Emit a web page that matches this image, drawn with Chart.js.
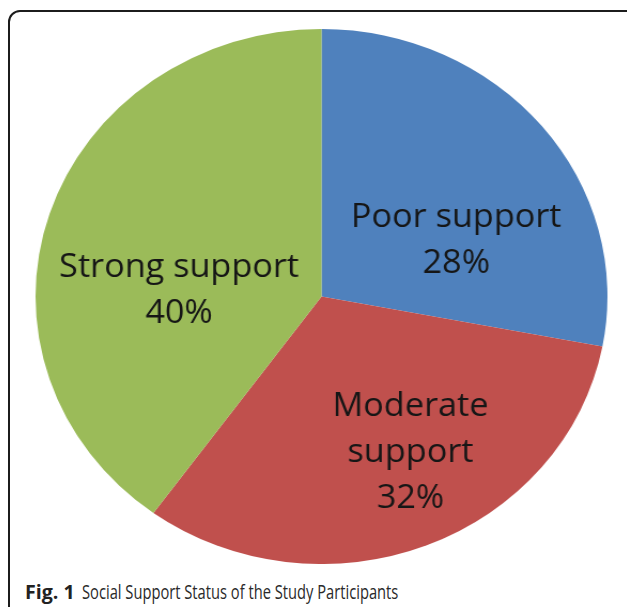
<!DOCTYPE html>
<html>
<head>
<meta charset="utf-8">
<script src="https://cdn.jsdelivr.net/npm/chart.js@4"></script>
<style>
  html, body { margin: 0; padding: 0; background: #fff; }
  body { width: 627px; height: 607px; position: relative; overflow: hidden; }
  .frame {
    position: absolute; left: 8px; top: 10px; width: 640px; height: 700px;
    border: 2px solid #1c1c1c; border-radius: 12px; box-sizing: border-box;
  }
  .pie-wrap {
    position: absolute; left: 54px; top: 29px; width: 535px; height: 535px;
    transform: scaleX(1.069); transform-origin: center;
  }
  .caption {
    position: absolute; top: 578px; white-space: nowrap;
    font-family: "Open Sans", sans-serif; font-size: 19.6px; color: #222;
  }
  .caption.fig { left: 25px; font-weight: 700; }
  .caption.text { left: 82px; color: #2a2a2a; transform: scaleX(0.75); transform-origin: left center; }
</style>
</head>
<body>
<div class="frame"></div>
<div class="pie-wrap"><canvas id="pieChart"></canvas></div>
<div class="caption fig">Fig. 1</div>
<div class="caption text">Social Support Status of the Study Participants</div>

<script>
// Social support categories and their shares (%)
const categories = ['Poor support', 'Moderate support', 'Strong support'];
const shares = [28, 32, 40];
const colors = ['#4F81BD', '#C0504D', '#9BBB59'];

// draws the category name + percent inside each slice
const sliceLabels = {
    id: 'sliceLabels',
    afterDatasetsDraw(chart, args, opts) {
        const ctx = chart.ctx;
        const meta = chart.getDatasetMeta(0);
        ctx.save();
        ctx.font = opts.font;
        ctx.fillStyle = opts.color;
        ctx.textAlign = 'center';
        ctx.textBaseline = 'middle';
        meta.data.forEach((arc, i) => {
            const pos = arc.tooltipPosition();
            const shift = opts.shift[i];
            const name = chart.data.labels[i];
            const lines = opts.wrap[i] ? name.split(' ') : [name];
            lines.push(chart.data.datasets[0].data[i] + '%');
            const cx = pos.x + shift[0];
            const cy = pos.y + shift[1];
            const top = cy - (lines.length - 1) * opts.lineHeight / 2;
            lines.forEach((txt, j) => ctx.fillText(txt, cx, top + j * opts.lineHeight));
        });
        ctx.restore();
    }
};

const ctx = document.getElementById('pieChart').getContext('2d');
new Chart(ctx, {
    type: 'pie',
    data: {
        labels: categories,
        datasets: [{
            data: shares,
            backgroundColor: colors,
            borderWidth: 0,
            hoverOffset: 0
        }]
    },
    options: {
        responsive: true,
        maintainAspectRatio: false,
        animation: false,
        events: [],
        layout: { padding: 0 },
        plugins: {
            legend: { display: false },
            tooltip: { enabled: false },
            sliceLabels: {
                font: '32px "Open Sans", sans-serif',
                color: '#161616',
                lineHeight: 46,
                wrap: [false, true, false],
                shift: [[23, 30], [34, 32], [-6, 36]]
            }
        }
    },
    plugins: [sliceLabels]
});
</script>
</body>
</html>
